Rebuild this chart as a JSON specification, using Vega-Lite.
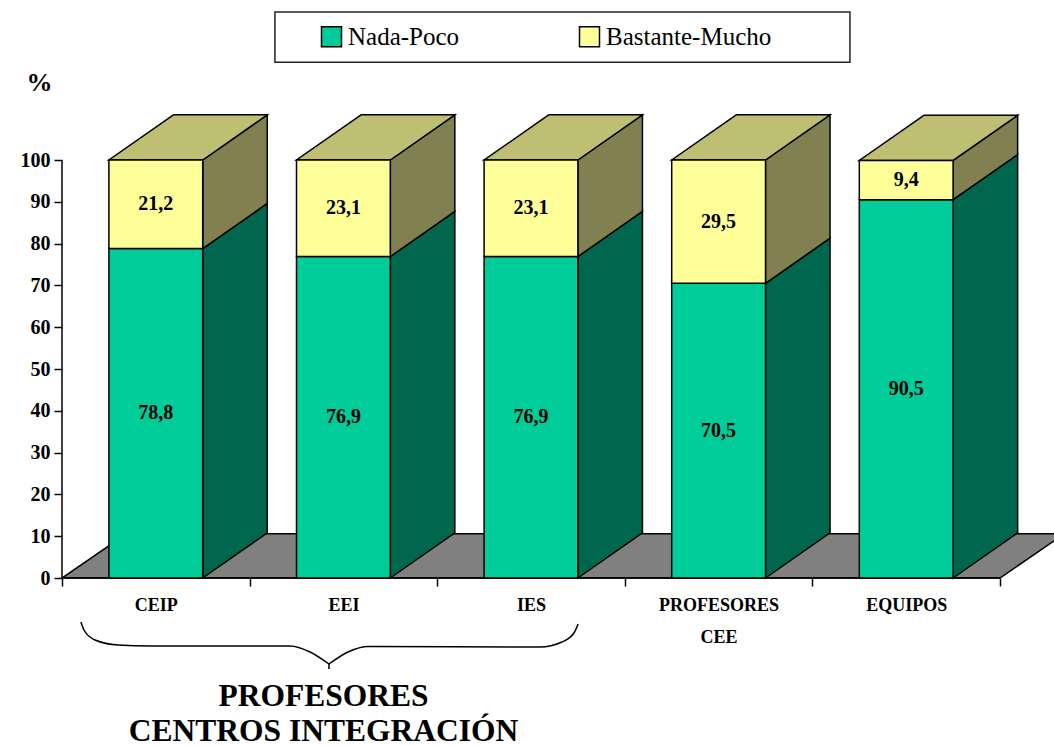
{
"$schema":"https://vega.github.io/schema/vega-lite/v6.json",
"width":1054,"height":746,"autosize":{"type":"none"},"padding":0,"background":"white",
"config":{"view":{"stroke":null},"font":"Liberation Serif","locale":{"number":{"decimal":",","thousands":".","grouping":[3],"currency":["","€"]}}},
"layer":[
{"data":{"values":[{"px":0,"px2":5,"py":0},{"px":0.344,"px2":5.344,"py":10.6}]},
 "mark":{"type":"area","orient":"horizontal","fill":"#808080","stroke":"black","strokeWidth":1.5,"clip":true},
 "encoding":{
  "y":{"field":"py","type":"quantitative","scale":{"domain":[-40.19,138.28],"nice":false,"zero":false},
    "axis":{"values":[0,10,20,30,40,50,60,70,80,90,100],"orient":"left","offset":-62,"domain":false,"grid":false,"tickSize":8,"tickWidth":1.5,"tickColor":"black","labelPadding":4,"labelFont":"Liberation Serif","labelFontWeight":"bold","labelFontSize":20,"labelColor":"black","title":"%","titleAngle":0,"titleX":-23,"titleY":95,"titleFont":"Liberation Serif","titleFontWeight":"bold","titleFontSize":26,"titleColor":"black","titleAlign":"center"}},
  "x":{"field":"px","type":"quantitative","scale":{"domain":[-0.3305,5.2878],"nice":false,"zero":false},
    "axis":{"values":[0,1,2,3,4,5],"orient":"bottom","offset":-168,"domain":false,"grid":false,"tickSize":8,"tickWidth":1.5,"tickColor":"black","labelOffset":93.8,"labelPadding":10,"labelAlign":"center","labelBaseline":"top","labelLineHeight":32,"labelExpr":"['CEIP','EEI','IES',['PROFESORES','CEE'],'EQUIPOS',''][datum.value]","labelFont":"Liberation Serif","labelFontWeight":"bold","labelFontSize":18,"labelColor":"black","labelOverlap":false,"labelBound":false,"labelFlush":false,"title":["PROFESORES","CENTROS INTEGRACIÓN"],"titleLineHeight":35,"titleX":323,"titleY":127,"titleAlign":"center","titleBaseline":"alphabetic","titleFont":"Liberation Serif","titleFontWeight":"bold","titleFontSize":31.5,"titleColor":"black"}},
  "x2":{"field":"px2"}
 }},
{"data":{"values":[{"x":0,"x2":0,"y":0,"y2":100},{"x":0,"x2":5,"y":0,"y2":0}]},
 "mark":{"type":"rule","stroke":"black","strokeWidth":1.5},
 "encoding":{"x":{"field":"x","type":"quantitative"},"x2":{"field":"x2"},"y":{"field":"y","type":"quantitative"},"y2":{"field":"y2"}}},
{"data":{"values":[{"x":1.135,"x2":4.2,"y":135.4,"y2":123.4}]},
 "mark":{"type":"rect","fill":"white","stroke":"#222222","strokeWidth":1.5},
 "encoding":{"x":{"field":"x","type":"quantitative"},"x2":{"field":"x2"},"y":{"field":"y","type":"quantitative"},"y2":{"field":"y2"}}},
{"data":{"values":[
  {"part":"left","x":0.101,"y":-10.53},{"part":"left","x":0.117,"y":-12.44},{"part":"left","x":0.176,"y":-14.83},{"part":"left","x":0.299,"y":-16.03},{"part":"left","x":0.469,"y":-16.27},{"part":"left","x":1.215,"y":-16.27},{"part":"left","x":1.322,"y":-17.7},{"part":"left","x":1.423,"y":-20.57},
  {"part":"stem","x":1.423,"y":-20.57},{"part":"stem","x":1.423,"y":-21.77},
  {"part":"right","x":1.423,"y":-20.57},{"part":"right","x":1.525,"y":-17.7},{"part":"right","x":1.631,"y":-16.39},{"part":"right","x":2.548,"y":-16.51},{"part":"right","x":2.665,"y":-15.31},{"part":"right","x":2.729,"y":-13.16},{"part":"right","x":2.751,"y":-11.0}]},
 "mark":{"type":"line","stroke":"black","strokeWidth":1.5,"interpolate":"monotone"},
 "encoding":{"x":{"field":"x","type":"quantitative"},"y":{"field":"y","type":"quantitative"},"detail":{"field":"part"}}},
{"data":{"values":[
  {"cat":"CEIP","idx":0,"series":"Nada-Poco","value":78.8},{"cat":"CEIP","idx":0,"series":"Bastante-Mucho","value":21.2},
  {"cat":"EEI","idx":1,"series":"Nada-Poco","value":76.9},{"cat":"EEI","idx":1,"series":"Bastante-Mucho","value":23.1},
  {"cat":"IES","idx":2,"series":"Nada-Poco","value":76.9},{"cat":"IES","idx":2,"series":"Bastante-Mucho","value":23.1},
  {"cat":"PROFESORES CEE","idx":3,"series":"Nada-Poco","value":70.5},{"cat":"PROFESORES CEE","idx":3,"series":"Bastante-Mucho","value":29.5},
  {"cat":"EQUIPOS","idx":4,"series":"Nada-Poco","value":90.5},{"cat":"EQUIPOS","idx":4,"series":"Bastante-Mucho","value":9.4}]},
 "transform":[
  {"stack":"value","groupby":["cat"],"sort":[{"field":"series","order":"descending"}],"as":["y0","y1"]},
  {"calculate":"datum.idx+0.25","as":"xl"},{"calculate":"datum.idx+0.75","as":"xr"},{"calculate":"datum.idx+0.5","as":"xc"},{"calculate":"(datum.y0+datum.y1)/2","as":"ym"}],
 "layer":[
  {"transform":[{"filter":"datum.series==='Nada-Poco'"},{"calculate":"[datum.xr,datum.xr+0.344]","as":"sx"},{"calculate":"[datum.y0,datum.y0+10.8]","as":"s0"},{"calculate":"[datum.y1,datum.y1+10.8]","as":"s1"},{"flatten":["sx","s0","s1"]}],
   "mark":{"type":"area","fill":"#00664D","stroke":"black","strokeWidth":1.5},
   "encoding":{"x":{"field":"sx","type":"quantitative"},"y":{"field":"s0","type":"quantitative"},"y2":{"field":"s1"},"detail":{"field":"cat"}}},
  {"transform":[{"filter":"datum.series==='Bastante-Mucho'"},{"calculate":"[datum.xr,datum.xr+0.344]","as":"sx"},{"calculate":"[datum.y0,datum.y0+10.8]","as":"s0"},{"calculate":"[datum.y1,datum.y1+10.8]","as":"s1"},{"flatten":["sx","s0","s1"]}],
   "mark":{"type":"area","fill":"#808050","stroke":"black","strokeWidth":1.5},
   "encoding":{"x":{"field":"sx","type":"quantitative"},"y":{"field":"s0","type":"quantitative"},"y2":{"field":"s1"},"detail":{"field":"cat"}}},
  {"transform":[{"filter":"datum.series==='Bastante-Mucho'"},{"calculate":"[datum.y1,datum.y1+10.8]","as":"ty"},{"calculate":"[datum.xl,datum.xl+0.344]","as":"t0"},{"calculate":"[datum.xr,datum.xr+0.344]","as":"t1"},{"flatten":["ty","t0","t1"]}],
   "mark":{"type":"area","orient":"horizontal","fill":"#BFBF73","stroke":"black","strokeWidth":1.5},
   "encoding":{"y":{"field":"ty","type":"quantitative"},"x":{"field":"t0","type":"quantitative"},"x2":{"field":"t1"},"detail":{"field":"cat"}}},
  {"mark":{"type":"rect","stroke":"black","strokeWidth":1.5},
   "encoding":{"x":{"field":"xl","type":"quantitative"},"x2":{"field":"xr"},"y":{"field":"y0","type":"quantitative"},"y2":{"field":"y1"},
    "color":{"field":"series","type":"nominal","scale":{"domain":["Nada-Poco","Bastante-Mucho"],"range":["#00CC99","#FFFF99"]},
     "legend":{"orient":"none","legendX":319,"legendY":24,"direction":"horizontal","columns":2,"title":null,"symbolType":"square","symbolSize":400,"symbolStrokeColor":"black","symbolStrokeWidth":1.5,"symbolOpacity":1,"labelFont":"Liberation Serif","labelFontSize":25,"labelColor":"black","labelOffset":4,"columnPadding":116,"labelLimit":300}}}},
  {"mark":{"type":"text","font":"Liberation Serif","fontWeight":"bold","fontSize":20,"color":"black","align":"center","baseline":"middle"},
   "encoding":{"x":{"field":"xc","type":"quantitative"},"y":{"field":"ym","type":"quantitative"},"text":{"field":"value","type":"quantitative","format":".1f"}}}
 ]}
]}
